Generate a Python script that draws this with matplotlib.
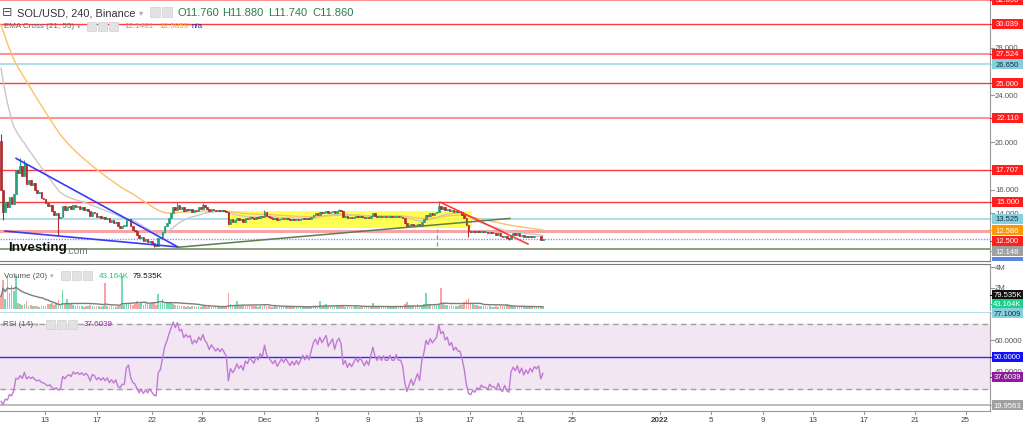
import numpy as np
import pandas as pd
import matplotlib
matplotlib.use("Agg")
import matplotlib.pyplot as plt
from matplotlib.patches import Rectangle
from matplotlib.lines import Line2D

plt.rcParams['font.family'] = ['Liberation Sans', 'DejaVu Sans']

W, H = 1024, 431

# ---------------- data ----------------
first_open = 20.1
closes = [
 16.0, 14.1, 15.0, 14.5, 15.4, 14.8, 15.6, 17.7, 17.4, 18.0, 17.2, 18.2, 16.5, 16.8, 16.4, 16.6,
 16.0, 15.7, 15.8, 15.3, 15.2, 14.9, 14.6, 14.7, 14.2, 13.9, 14.0, 13.6, 13.7, 14.6, 14.3, 14.5,
 14.6, 14.4, 14.7, 14.5, 14.6, 14.4, 14.5, 14.3, 14.4, 14.2, 13.8, 14.1, 14.0, 13.7, 13.8, 13.6,
 13.7, 13.5, 13.6, 13.3, 13.4, 13.2, 13.3, 12.9, 12.8, 12.9, 12.9, 13.4, 13.5, 12.9, 12.6, 12.5,
 12.2, 11.9, 12.0, 11.7, 11.8, 11.6, 11.7, 11.5, 11.3, 11.25, 11.9, 12.0, 12.4, 12.9, 13.2, 13.6,
 14.0, 14.5, 14.3, 14.7, 14.4, 14.5, 14.2, 14.4, 14.3, 14.4, 14.1, 14.3, 14.2, 14.5, 14.4, 14.7,
 14.5, 14.4, 14.2, 14.4, 14.3, 14.2, 14.3, 14.2, 14.3, 14.2, 14.1, 13.1, 13.5, 13.3, 13.4, 13.6,
 13.4, 13.5, 13.3, 13.6, 13.5, 13.7, 13.6, 13.5, 13.7, 13.6, 13.8, 13.7, 14.1, 13.8, 13.7, 13.6,
 13.5, 13.6, 13.4, 13.5, 13.6, 13.5, 13.6, 13.5, 13.4, 13.5, 13.4, 13.5, 13.4, 13.5, 13.6, 13.5,
 13.6, 13.5, 13.7, 13.9, 14.0, 13.9, 14.1, 14.0, 14.1, 14.2, 14.0, 14.1, 14.2, 14.0, 14.2, 14.3,
 14.2, 13.7, 13.8, 13.6, 13.7, 13.6, 13.7, 13.8, 13.7, 13.8, 13.7, 13.6, 13.7, 13.6, 13.8, 14.0,
 13.8, 13.7, 13.8, 13.7, 13.8, 13.7, 13.7, 13.8, 13.7, 13.7, 13.8, 13.7, 13.7, 13.6, 13.2, 12.9,
 13.0, 13.1, 12.9, 13.0, 13.1, 12.9, 13.3, 13.5, 13.9, 13.8, 14.0, 13.9, 14.0, 14.1, 14.6, 14.4,
 14.5, 14.3, 14.4, 14.2, 14.3, 14.1, 14.2, 14.1, 14.1, 13.9, 13.6, 13.0, 12.5, 12.4, 12.5, 12.4,
 12.5, 12.4, 12.5, 12.4, 12.4, 12.3, 12.4, 12.3, 12.3, 12.2, 12.3, 12.1, 12.0, 12.1, 11.9, 11.85,
 12.2, 12.3, 12.2, 12.3, 12.1, 12.2, 12.0, 12.1, 12.0, 12.1, 12.0, 12.1, 12.05, 12.1, 11.76, 11.86,
]
wick_high = {0: 20.7, 9: 18.7, 11: 18.5, 83: 14.95, 95: 14.9, 124: 14.25, 159: 14.35, 206: 14.95}
wick_low = {1: 13.4, 27: 12.1, 72: 11.15, 220: 12.0, 239: 11.75, 254: 11.74}

volumes_m = [
 1.2, 2.75, 1.0, 3.1, 1.5, 2.3, 1.7, 3.1, 0.6, 0.5, 0.4, 0.5, 0.76, 0.3, 0.35, 0.25,
 0.3, 0.25, 0.2, 0.3, 0.25, 0.3, 0.5, 0.45, 0.55, 0.4, 0.6, 0.85, 0.5, 1.8, 0.6, 0.95,
 0.5, 0.55, 0.4, 0.3, 0.35, 0.25, 0.3, 0.2, 0.25, 0.3, 0.35, 0.25, 0.2, 0.3, 0.25, 0.2,
 0.25, 2.5, 0.3, 0.2, 0.25, 0.2, 0.15, 0.3, 0.25, 3.1, 0.35, 0.6, 0.5, 0.55, 0.4, 0.5,
 0.8, 0.5, 0.6, 0.4, 0.55, 0.45, 0.5, 0.6, 0.7, 0.4, 1.4, 0.6, 0.95, 0.5, 0.6, 0.55,
 0.6, 0.45, 0.4, 0.35, 0.3, 0.25, 0.3, 0.2, 0.25, 0.2, 0.25, 0.3, 0.2, 0.25, 0.2, 0.3,
 0.25, 0.2, 0.3, 0.2, 0.25, 0.2, 0.15, 0.2, 0.25, 0.2, 0.3, 1.5, 0.5, 0.4, 0.35, 0.8,
 0.4, 0.3, 0.35, 0.3, 0.25, 0.4, 0.3, 0.25, 0.3, 0.2, 0.25, 0.3, 0.45, 0.3, 0.25, 0.2,
 0.2, 0.25, 0.2, 0.15, 0.2, 0.25, 0.2, 0.15, 0.2, 0.25, 0.2, 0.2, 0.15, 0.2, 0.25, 0.2,
 0.2, 0.25, 0.3, 0.4, 0.35, 0.3, 0.8, 0.3, 0.35, 0.45, 0.3, 0.25, 0.3, 0.25, 0.3, 0.35,
 0.3, 0.25, 0.2, 0.25, 0.2, 0.15, 0.2, 0.25, 0.2, 0.2, 0.15, 0.2, 0.25, 0.2, 0.3, 0.55,
 0.3, 0.25, 0.2, 0.25, 0.2, 0.15, 0.2, 0.25, 0.2, 0.15, 0.2, 0.25, 0.2, 0.3, 0.45, 0.65,
 0.4, 0.3, 0.35, 0.3, 0.5, 0.3, 0.4, 0.45, 1.5, 0.5, 0.4, 0.3, 0.35, 0.45, 0.5, 2.0,
 0.5, 0.4, 0.35, 0.3, 0.35, 0.3, 0.25, 0.3, 0.35, 0.4, 0.65, 0.85, 1.05, 0.6, 0.45, 0.4,
 0.35, 0.3, 0.25, 0.3, 0.25, 0.2, 0.25, 0.2, 0.2, 0.25, 0.2, 0.35, 0.3, 0.25, 0.45, 0.3,
 0.3, 0.25, 0.2, 0.25, 0.2, 0.15, 0.2, 0.15, 0.2, 0.15, 0.2, 0.15, 0.15, 0.2, 0.2, 0.15,
]

# horizontal levels
red_levels = [30.039, 25.000, 17.707, 15.000]
light_red_levels = [32.056, 27.524, 22.110]
blue_levels = [26.650, 13.525]
salmon_level = 12.500
olive_level = 10.98
last_price = 11.860

# drawn objects (bar index, price)
wedge_upper = ([7.1, 83.3], [18.65, 11.15])
wedge_lower = ([1.9, 83.3], [12.50, 11.15])
olive_trend = ([82.8, 239.5], [11.12, 13.57])
red_trend = ([206.6, 248.0], [14.95, 11.40])
yellow_box = (106.8, 221.7, 12.77, 14.20)
vmark = (205.2, 11.2, 12.7)

ema_fast_len, ema_slow_len = 21, 55
ema_seed_fast, ema_seed_slow = 27.3, 30.5
rsi_len = 14
rsi_seed_gain, rsi_seed_loss = 0.38, 1.0

tick_labels = ['13', '17', '22', '26', 'Dec', '5', '9', '13', '17', '21', '25',
               '2022', '5', '9', '13', '17', '21', '25']
tick_px = [45, 97, 152, 202, 264, 317, 368, 419, 470, 521, 572,
           659.5, 711, 762.5, 813, 864, 915, 965.5]

# ---------------- derived series ----------------
n = len(closes)
opens = [first_open] + closes[:-1]
highs = [max(o, c) for o, c in zip(opens, closes)]
lows = [min(o, c) for o, c in zip(opens, closes)]
for k, v in wick_high.items():
    highs[k] = v
for k, v in wick_low.items():
    lows[k] = v
up = [c >= o for o, c in zip(opens, closes)]


def ema(vals, length, seed):
    a = 2.0 / (length + 1)
    out, e = [], seed
    for v in vals:
        e = e + a * (v - e)
        out.append(e)
    return out


ema_fast = ema(closes, ema_fast_len, ema_seed_fast)
ema_slow = ema(closes, ema_slow_len, ema_seed_slow)

rsi = []
ag, al = rsi_seed_gain, rsi_seed_loss
prev = first_open
for c in closes:
    d = c - prev
    ag = (ag * (rsi_len - 1) + max(d, 0)) / rsi_len
    al = (al * (rsi_len - 1) + max(-d, 0)) / rsi_len
    rsi.append(100 - 100 / (1 + ag / al))
    prev = c

vol_ma = pd.Series(volumes_m).rolling(20, min_periods=1).mean().values

# ---------------- figure ----------------
fig = plt.figure(figsize=(W / 100, H / 100), dpi=100)
fig.patch.set_facecolor('white')


def rect(x0, y0, x1, y1):
    return [x0 / W, 1 - y1 / H, (x1 - x0) / W, (y1 - y0) / H]


PXB = 2.125
XL = (-0.47, 990 / PXB - 0.47)

ax = fig.add_axes(rect(0, 0, 990, 262))
axv = fig.add_axes(rect(0, 265, 990, 311))
axr = fig.add_axes(rect(0, 313, 990, 412))

for a in (ax, axv, axr):
    a.set_xlim(*XL)
    a.set_xticks([])
    a.set_yticks([])
    for s in ('left', 'top'):
        a.spines[s].set_visible(False)
    a.spines['right'].set_color('#9a9a9a')
    a.spines['bottom'].set_visible(False)
    a.set_facecolor('white')

ax.set_ylim(32.056 - 262 / 11.86, 32.056 + 1 / 11.86)
axv.set_ylim(-1 / 10.5, 45 / 10.5)
axr.set_ylim(16.5, 77.4)

ax.spines['bottom'].set_visible(True)
ax.spines['bottom'].set_color('#7a7a7a')
axv.spines['top'].set_visible(True)
axv.spines['top'].set_color('#7a7a7a')
axr.spines['bottom'].set_visible(True)
axr.spines['bottom'].set_color('#9a9a9a')

x = np.arange(n)

for lv in red_levels:
    ax.axhline(lv, color='#ff3b3b', lw=1.0, zorder=1)
for lv in light_red_levels:
    ax.axhline(lv, color='#ff7d7d', lw=1.2, zorder=1)
for lv in blue_levels:
    ax.axhline(lv, color='#a9dce6', lw=1.3, zorder=1)
ax.axhline(salmon_level, color='#f5a3a3', lw=2.2, zorder=1)
ax.axhline(olive_level, color='#7f9a72', lw=1.3, zorder=1)
ax.axhline(last_price, color='#7b98f0', lw=1.0, ls=(0, (1, 1)), zorder=1)

bx0, bx1, by0, by1 = yellow_box
ax.add_patch(Rectangle((bx0, by0), bx1 - bx0, by1 - by0, fc='#ffff33', ec='none', alpha=0.85, zorder=1.5))

ax.plot(x, ema_fast, color='#c8c8c8', lw=1.0, zorder=2)
ax.plot(x, ema_slow, color='#ffbf66', lw=1.0, zorder=2)

green, red = '#25a07a', '#b02a2e'
for i in range(n):
    col = green if up[i] else red
    ax.vlines(i, lows[i], highs[i], color=col, lw=0.8, zorder=3)
    lo, hi = min(opens[i], closes[i]), max(opens[i], closes[i])
    hgt = max(hi - lo, 0.07)
    ax.add_patch(Rectangle((i - 0.4, lo), 0.8, hgt, fc=col, ec=col, lw=0.5, zorder=3.2))

ax.plot(*wedge_upper, color='#3a3af5', lw=1.2, zorder=4)
ax.plot(*wedge_lower, color='#3a3af5', lw=1.2, zorder=4)
ax.plot(*olive_trend, color='#5e7d50', lw=1.1, zorder=4)
ax.plot(*red_trend, color='#ff3030', lw=1.1, zorder=4)
ax.plot([vmark[0], vmark[0]], [vmark[1], vmark[2]], color='#9a9a9a', lw=1.0, ls=(0, (3, 2)), zorder=4)

vg, vr = '#74dcb0', '#f6a3a3'
axv.bar(x, volumes_m, width=0.8, color=[vg if u else vr for u in up], zorder=2)
axv.plot(x, vol_ma, color='#7d7d7d', lw=1.0, zorder=3)

axr.axhspan(30, 70, color='#f3e6f3', zorder=0)
axr.axhline(70, color='#a0a0a0', lw=1.0, ls=(0, (4, 3)), zorder=1)
axr.axhline(30, color='#a0a0a0', lw=1.0, ls=(0, (4, 3)), zorder=1)
axr.axhline(50, color='#2b2bff', lw=1.0, zorder=1)
axr.axhline(19.9563, color='#b0b0b0', lw=1.2, zorder=1)
axr.axhline(77.1009, color='#a9dce6', lw=1.3, zorder=1)
axr.plot(x, rsi, color='#c07ad4', lw=1.0, zorder=2)

# ---------------- texts ----------------
FF = ['Liberation Sans', 'DejaVu Sans']


def ftext(px, py, s, **kw):
    kw.setdefault('va', 'center')
    kw.setdefault('ha', 'left')
    kw.setdefault('family', FF)
    fig.text(px / W, 1 - py / H, s, **kw)


def icon(px, py, size=9):
    fig.add_artist(Rectangle((px / W, 1 - (py + size / 2) / H), size / W, size / H,
                             fc='#e2e2e2', ec='#d0d0d0', lw=0.5, transform=fig.transFigure))


ftext(2, 13, '⊟', fontsize=9, color='#555555', family=['DejaVu Sans'])
ftext(17, 13, 'SOL/USD, 240, Binance', fontsize=7.9, color='#333333')
ftext(139, 13, '▾', fontsize=6, color='#aaaaaa', family=['DejaVu Sans'])
icon(150, 13, 10)
icon(162, 13, 10)
ohlc_txt = ['O11.760', 'H11.880', 'L11.740', 'C11.860']
for px, s in zip([177, 222, 268, 312], ohlc_txt):
    ftext(px, 13, s, fontsize=8.0, color='#2f7a52')

ftext(4, 27, 'EMA Cross (21, 55)', fontsize=5.8, color='#666666')
ftext(77, 27, '▾', fontsize=5, color='#aaaaaa', family=['DejaVu Sans'])
for px in (87, 98, 109):
    icon(px, 27, 9)
ftext(124, 27, '12.1481', fontsize=5.8, color='#a0a0a0')
ftext(159, 27, '12.5859', fontsize=5.8, color='#ff9a1a')
ftext(192, 27, 'n/a', fontsize=5.8, color='#1f1fa0')

ftext(4, 276, 'Volume (20)', fontsize=5.8, color='#555555')
ftext(50, 276, '▾', fontsize=5, color='#aaaaaa', family=['DejaVu Sans'])
for px in (61, 72, 83):
    icon(px, 276, 9)
ftext(99, 276, '43.164K', fontsize=5.8, color='#22c27c')
ftext(133, 276, '79.535K', fontsize=5.8, color='#111111')

ftext(3, 325, 'RSI (14)', fontsize=5.8, color='#555555')
ftext(35, 325, '▾', fontsize=5, color='#aaaaaa', family=['DejaVu Sans'])
for px in (46, 57, 68):
    icon(px, 325, 9)
ftext(84, 325, '37.6039', fontsize=5.8, color='#a020b0')

ftext(8, 248, 'Investing', fontsize=9.6, color='#111111', weight='bold')
ftext(66, 251, '.com', fontsize=7.2, color='#777777')

for lbl, px in zip(tick_labels, tick_px):
    fig.add_artist(Line2D([px / W, px / W], [1 - 412 / H, 1 - 415 / H], color='#999999', lw=0.8,
                          transform=fig.transFigure))
    ftext(px, 421, lbl, fontsize=5.8, color='#444444', ha='center',
          weight='bold' if lbl == '2022' else 'normal')


def ypix(a, v):
    return H - a.transData.transform((0, v))[1]


def gray_tick(a, v, s, dy=0):
    py = ypix(a, v)
    fig.add_artist(Line2D([990 / W, 994 / W], [1 - py / H, 1 - py / H], color='#999999', lw=0.8,
                          transform=fig.transFigure))
    ftext(995, py + dy, s, fontsize=5.6, color='#555555')


def box(py, s, fc, tc='white', bottom_clip=None):
    y_top = py - 5
    y_bot = py + 5 if bottom_clip is None else min(py + 5, bottom_clip)
    fig.add_artist(Rectangle((992 / W, 1 - y_bot / H), 31 / W, (y_bot - y_top) / H, fc=fc, ec='none',
                             transform=fig.transFigure, zorder=5))
    if bottom_clip is None:
        fig.add_artist(Line2D([990 / W, 992 / W], [1 - py / H, 1 - py / H], color=fc, lw=0.8,
                              transform=fig.transFigure))
        ftext(1007.5, py, s, fontsize=5.5, color=tc, ha='center', zorder=6)


for v, s in [(28, '28.000'), (24, '24.000'), (20, '20.000'), (16, '16.000'), (14, '14.000')]:
    gray_tick(ax, v, s)
for v, s in [(4, '4M'), (2, '2M')]:
    gray_tick(axv, v, s)
gray_tick(axr, 60, '60.0000')
gray_tick(axr, 40, '40.0000', dy=-1.5)

main_boxes = [
    (32.056, '32.056', '#ff1f1f', 'white'),
    (30.039, '30.039', '#ff1f1f', 'white'),
    (27.524, '27.524', '#ff1f1f', 'white'),
    (26.650, '26.650', '#86d0de', '#123040'),
    (25.000, '25.000', '#ff1f1f', 'white'),
    (22.110, '22.110', '#ff1f1f', 'white'),
    (17.707, '17.707', '#ff1f1f', 'white'),
    (15.000, '15.000', '#ff1f1f', 'white'),
    (13.525, '13.525', '#86d0de', '#123040'),
    (12.586, '12.586', '#ff9800', 'white'),
    (12.500, '12.500', '#ff1f1f', 'white'),
    (12.148, '12.148', '#a0a0a0', 'white'),
    (11.860, '11.860', '#5b86e5', 'white'),
]
last = -100
for v, s, fc, tc in sorted(main_boxes, key=lambda t: -t[0]):
    py = max(ypix(ax, v), last + 10.5)
    last = py
    if py + 5 <= 262:
        box(py, s, fc, tc)
    elif py - 5 < 262:
        box(py, s, fc, tc, bottom_clip=262)

box(296, '79.535K', '#111111')
box(304.5, '43.164K', '#1fd089')
box(ypix(axr, 77.1009) + 1, '77.1009', '#86d0de', '#123040')
box(ypix(axr, 50), '50.0000', '#1010ff')
box(ypix(axr, 37.6039), '37.6039', '#8e1a9e')
box(ypix(axr, 19.9563), '19.9563', '#a0a0a0')

fig.savefig('out.png', dpi=100, facecolor='white')
